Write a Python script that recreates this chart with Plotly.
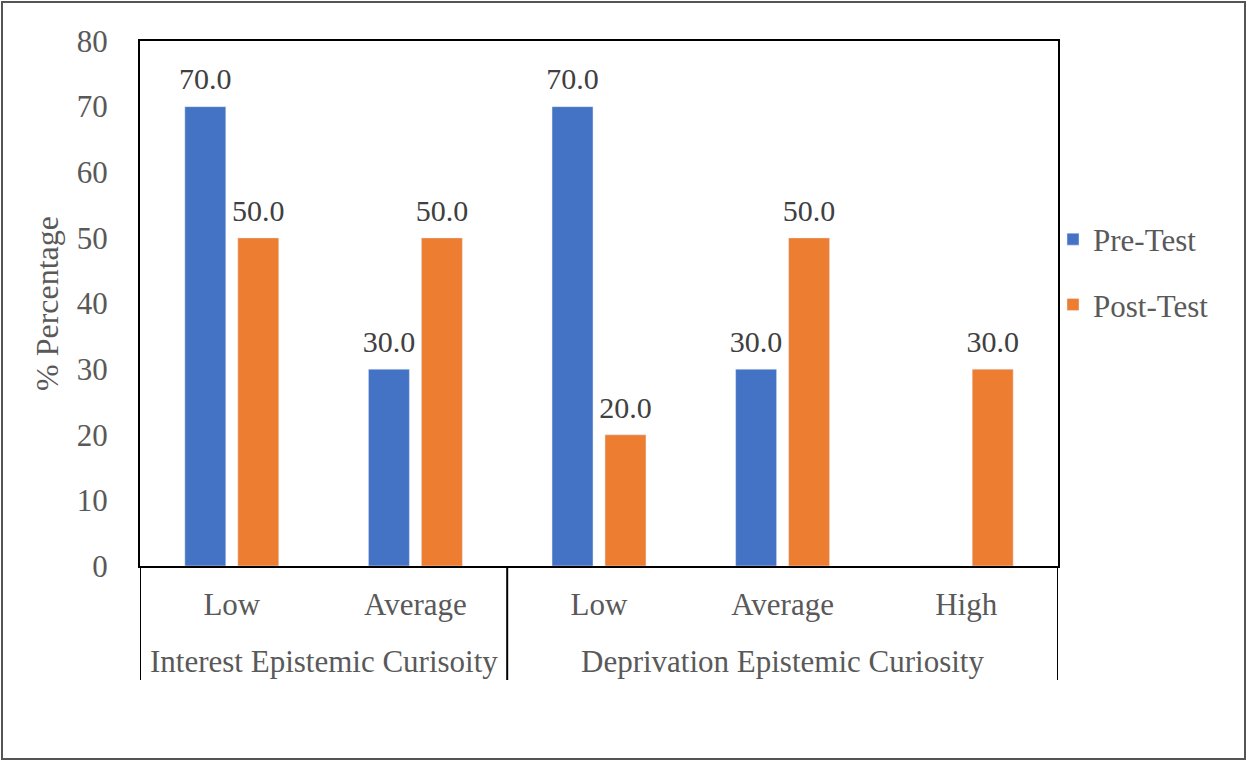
import plotly.graph_objects as go

groups = ["Interest Epistemic Curisoity", "Deprivation Epistemic Curiosity"]
group_members = [[0, 1], [2, 3, 4]]
levels = ["Low", "Average", "Low", "Average", "High"]
pre_test = [70, 30, 70, 30, 0]
post_test = [50, 50, 20, 50, 30]
y_ticks = [0, 10, 20, 30, 40, 50, 60, 70, 80]

W, H = 1247, 761
L, R, T, B = 140, 1058, 41, 566

FONT = "Liberation Serif, Times New Roman, serif"
GRAY = "#595959"
BARGAP = 0.423

xpos = list(range(len(levels)))


def labels(vals):
    return [f"{v:.1f}" if v else "" for v in vals]


fig = go.Figure()
series = [("Pre-Test", pre_test, "#4472C4", "a"),
          ("Post-Test", post_test, "#ED7D31", "b")]
for name, vals, color, grp in series:
    fig.add_trace(go.Bar(
        x=xpos, y=vals, name=name, marker=dict(color=color),
        legendgroup=grp, offsetgroup=grp, hoverinfo="skip",
    ))
for name, vals, color, grp in series:
    fig.add_trace(go.Scatter(
        x=xpos, y=vals, mode="markers+text", text=labels(vals),
        textposition="top center", offsetgroup=grp, showlegend=False,
        marker=dict(size=14, opacity=0), cliponaxis=False, hoverinfo="skip",
        textfont=dict(family=FONT, size=30, color="#404040"),
    ))

pw = R - L
ph = B - T


def px(x):
    return (x - L) / pw


def py(y):
    return (B - y) / ph


annotations = []
shapes = []
for name, members in zip(groups, group_members):
    annotations.append(dict(
        x=sum(members) / len(members), xref="x", y=py(661), yref="paper",
        text=name, showarrow=False, xanchor="center", yanchor="middle",
        font=dict(family=FONT, size=31, color=GRAY)))
bounds = [group_members[0][0] - 0.5] + [m[-1] + 0.5 for m in group_members]
for b in bounds:
    shapes.append(dict(type="line", xref="x", yref="paper", x0=b, x1=b,
                       y0=0, y1=py(680), line=dict(color="black", width=2)))
shapes.append(dict(type="rect", xref="paper", yref="paper",
                   x0=px(2), x1=px(1245), y0=py(759), y1=py(2),
                   line=dict(color="#555555", width=2), layer="below"))

fig.update_layout(
    width=W, height=H,
    margin=dict(l=L, r=W - R, t=T, b=H - B),
    paper_bgcolor="white", plot_bgcolor="white",
    font=dict(family=FONT, size=31, color=GRAY),
    barmode="group", bargap=BARGAP, bargroupgap=0.226,
    scattermode="group", scattergap=BARGAP,
    showlegend=True,
    legend=dict(x=px(1053), y=py(272), xanchor="left", yanchor="middle",
                font=dict(family=FONT, size=31, color=GRAY),
                tracegroupgap=22, bgcolor="rgba(0,0,0,0)"),
    xaxis=dict(
        range=[-0.5, len(levels) - 0.5], tickvals=xpos, ticktext=levels,
        showline=True, linecolor="black", linewidth=2,
        mirror=True, showgrid=False, ticks="", zeroline=False,
        ticklabelstandoff=10,
        tickfont=dict(family=FONT, size=31, color=GRAY),
    ),
    yaxis=dict(
        range=[0, 80], tickvals=y_ticks, showline=True, linecolor="black",
        linewidth=2, mirror=True, showgrid=False, ticks="",
        zeroline=False, ticklabelstandoff=24,
        tickfont=dict(family=FONT, size=31, color=GRAY),
        title=dict(text="% Percentage", standoff=9,
                   font=dict(family=FONT, size=32, color=GRAY)),
    ),
    annotations=annotations,
    shapes=shapes,
)

fig.write_html("out.html", config={"displayModeBar": False},
               post_script="document.body.style.margin='0px';")
